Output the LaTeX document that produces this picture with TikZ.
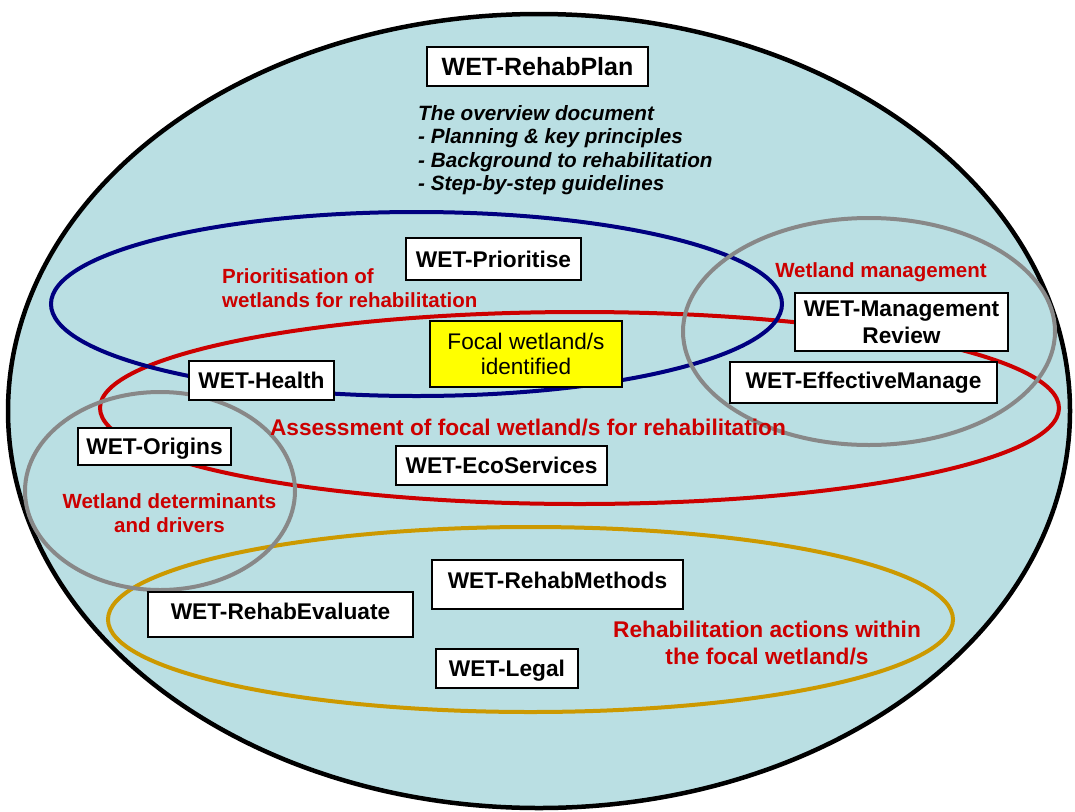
\documentclass[tikz,border=0pt]{standalone}
\usepackage{fontspec}
\setmainfont{Liberation Sans}
\definecolor{lagoon}{RGB}{186,223,227}
\definecolor{navyline}{RGB}{0,0,128}
\definecolor{redline}{RGB}{204,0,0}
\definecolor{grayline}{RGB}{136,136,136}
\definecolor{goldline}{RGB}{204,153,0}
\definecolor{focalyellow}{RGB}{255,255,0}
\newcommand\wetboxfont{\fontsize{22.7}{27}\selectfont\bfseries}
\newcommand\wetredfont{\fontsize{20.5}{24}\selectfont\bfseries}
\newcommand\wetbigred{\fontsize{22.7}{27}\selectfont\bfseries}
\newcommand\wetoverfont{\fontsize{20.7}{23.5}\selectfont\bfseries\itshape}
\begin{document}
\begin{tikzpicture}[x=1pt,y=-1pt,
  wetbox/.style={draw=black, line width=1.6pt, fill=white, inner sep=0pt,
    font=\wetboxfont, text height=16.3pt, text depth=0pt},
  redlabel/.style={text=redline, inner sep=0pt, font=\wetredfont},
  ring/.style={line width=4pt}]
\useasboundingbox (0,0) rectangle (1075,811);
% outer field
\draw[line width=4.5pt, fill=lagoon] (539,411) ellipse [x radius=531pt, y radius=397pt];
% rings
\draw[ring, redline] (579.5,408) ellipse [x radius=479.5pt, y radius=96pt];
\draw[ring, navyline] (416.5,304) ellipse [x radius=365.5pt, y radius=92pt];
\draw[ring, goldline] (530.5,619.5) ellipse [x radius=422.5pt, y radius=92.5pt];
\draw[ring, grayline] (869,331.5) ellipse [x radius=186pt, y radius=113.5pt];
\draw[ring, grayline] (160,491) ellipse [x radius=135pt, y radius=99pt];
% boxes
\node[wetbox, minimum width=221pt, minimum height=39pt,
  font=\fontsize{25}{30}\selectfont\bfseries, text height=17.9pt] (rehabplan) at (537.5,66.5) {WET-RehabPlan};
\node[wetbox, minimum width=175pt, minimum height=42pt] (prioritise) at (493.5,259) {WET-Prioritise};
\node[wetbox, fill=focalyellow, minimum width=192pt, minimum height=66pt,
  font=\fontsize{22.6}{25}\selectfont, text height=41.2pt] (focal) at (526,354)
  {\begin{tabular}[b]{@{}c@{}}Focal wetland/s\\identified\end{tabular}};
\node[wetbox, minimum width=145pt, minimum height=39pt] (health) at (261.5,380.5) {WET-Health};
\node[wetbox, minimum width=213pt, minimum height=58pt, text height=43.3pt] (mgmtreview) at (901.5,322)
  {\begin{tabular}[b]{@{}c@{}}WET-Management\\Review\end{tabular}};
\node[wetbox, minimum width=267pt, minimum height=41pt, text depth=4pt] (effmanage) at (863.5,382.5) {WET-EffectiveManage};
\node[wetbox, minimum width=153pt, minimum height=37pt] (origins) at (154.5,446.5) {WET-Origins};
\node[wetbox, minimum width=211pt, minimum height=39pt] (ecoservices) at (501.5,465.5) {WET-EcoServices};
\node[wetbox, minimum width=251pt, minimum height=49pt, text depth=9pt] (rehabmethods) at (557.5,584.5) {WET-RehabMethods};
\node[wetbox, minimum width=265pt, minimum height=45pt, text depth=7pt] (rehabevaluate) at (280.5,614.5) {WET-RehabEvaluate};
\node[wetbox, minimum width=142pt, minimum height=39pt] (legal) at (507,668.5) {WET-Legal};
% texts
\node[anchor=base west, inner sep=0pt, font=\wetoverfont] (overview) at (418,190.5)
  {\begin{tabular}[b]{@{}l@{}}The overview document\\- Planning \& key principles\\- Background to rehabilitation\\- Step-by-step guidelines\end{tabular}};
\node[redlabel, anchor=base west] (prioritylabel) at (222,307)
  {\begin{tabular}[b]{@{}l@{}}Prioritisation of\\wetlands for rehabilitation\end{tabular}};
\node[redlabel, anchor=base] (mgmtlabel) at (881,277) {Wetland management};
\node[redlabel, anchor=base, font=\wetbigred] (assesslabel) at (528,435) {Assessment of focal wetland/s for rehabilitation};
\node[redlabel, anchor=base] (determlabel) at (169.5,532)
  {\begin{tabular}[b]{@{}c@{}}Wetland determinants\\and drivers\end{tabular}};
\node[redlabel, anchor=base, font=\wetbigred] (actionlabel) at (767,664)
  {\begin{tabular}[b]{@{}c@{}}Rehabilitation actions within\\the focal wetland/s\end{tabular}};
\end{tikzpicture}
\end{document}
